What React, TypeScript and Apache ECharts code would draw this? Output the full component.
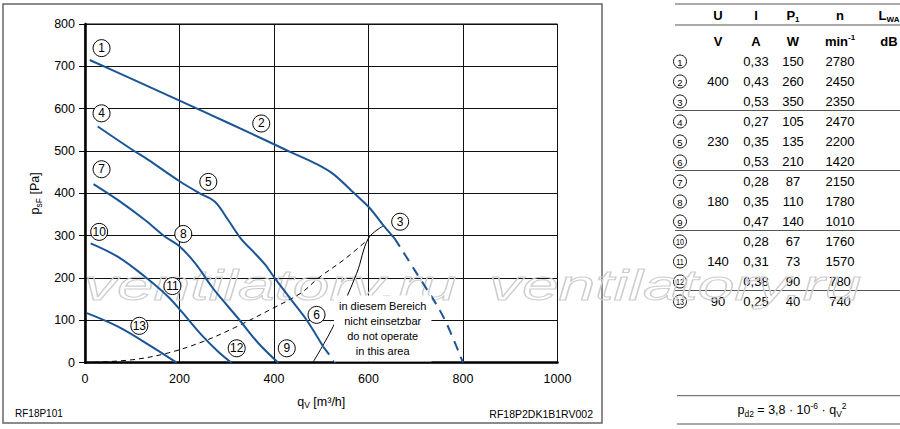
import React, { useEffect, useRef } from 'react';
import * as echarts from 'echarts';

// ---- Fan curves (q_V [m³/h], p_sF [Pa]) ----
const curve123Solid = [[10, 715], [100, 670], [200, 619], [300, 568], [400, 516], [434, 498], [487, 471], [525, 446], [568, 402], [602, 366], [631, 325], [655, 294]];
const curve123Dashed = [[655, 294], [702, 211], [758, 109], [800, 0]];
const curve456Solid = [[27, 558], [100, 503], [134, 479], [201, 428], [243, 400], [275, 380], [303, 337], [332, 290], [353, 266], [381, 232], [402, 199], [437, 148], [469, 101], [504, 38]];
const curve456Dashed = [[504, 38], [530, 0]];
const curve789 = [[18, 422], [70, 384], [127, 337], [169, 298], [201, 274], [233, 235], [268, 180], [282, 160], [324, 105], [367, 46], [409, 0]];
const curve101112 = [[12, 282], [70, 250], [127, 203], [176, 156], [205, 120], [247, 65], [282, 26], [310, 0]];
const curve13 = [[4, 117], [70, 85], [141, 38], [194, 0]];
const systemCurve = [[0, 0], [100, 7], [176, 23], [250, 50], [317, 83], [400, 130], [459, 166], [494, 200], [550, 245], [600, 292]];
const limitLine = [[482, 0], [525, 85], [575, 211], [600, 294], [631, 323]];

// circled curve labels: [q_V, p_sF, id]
const curveLabels = [
  [35, 743, '1'], [373, 565, '2'], [667, 333, '3'],
  [35, 589, '4'], [261, 427, '5'], [490, 113, '6'],
  [35, 457, '7'], [208, 304, '8'], [427, 34, '9'],
  [30, 309, '10'], [185, 181, '11'], [321, 34, '12'],
  [115, 87, '13'],
];

// ---- Axis ticks ----
const xTicks = { min: 0, max: 1000, interval: 200 };
const yTicks = { min: 0, max: 800, interval: 100 };

// ---- Table ----
const tableIds = ['1', '2', '3', '4', '5', '6', '7', '8', '9', '10', '11', '12', '13'];
const tableU = ['', '400', '', '', '230', '', '', '180', '', '', '140', '', '90'];
const tableI = ['0,33', '0,43', '0,53', '0,27', '0,35', '0,53', '0,28', '0,35', '0,47', '0,28', '0,31', '0,38', '0,25'];
const tableP1 = ['150', '260', '350', '105', '135', '210', '87', '110', '140', '67', '73', '90', '40'];
const tableN = ['2780', '2450', '2350', '2470', '2200', '1420', '2150', '1780', '1010', '1760', '1570', '780', '740'];
const tableLWA = ['', '', '', '', '', '', '', '', '', '', '', '', ''];
const groupEnds = [2, 5, 8, 11];

const BLUE = '#1b5595';
const FONT = '"Liberation Sans", Arial, Helvetica, sans-serif';

export default function App() {
  const ref = useRef<HTMLDivElement>(null);

  useEffect(() => {
    if (!ref.current) return;
    const chart = echarts.init(ref.current, undefined, { renderer: 'svg' });

    const lineSeries = (data: number[][], dashed: boolean, color = BLUE, width = 2, dash: number[] = [10, 7]) => ({
      type: 'line',
      data,
      symbol: 'none',
      showSymbol: false,
      smooth: 0.35,
      silent: true,
      z: 3,
      lineStyle: { color, width, type: dashed ? dash : 'solid' },
    });

    const colX = { id: 680, U: 718, I: 756, P: 793, n: 840, L: 889 };
    const rowY = (i: number) => 61.5 + i * 20;

    const graphics: any[] = [];
    // outer frame
    graphics.push({
      type: 'rect', z: 0, silent: true,
      shape: { x: 3, y: 4, width: 599, height: 419 },
      style: { fill: 'none', stroke: '#666', lineWidth: 1.5 },
    });
    // watermarks
    [[84, 286], [489, 286]].forEach(([x, y]) => {
      graphics.push({
        type: 'text', x, y, scaleX: 1.57, z: 1, silent: true,
        style: {
          text: 'ventilatory.ru', font: `italic 42px ${FONT}`,
          fill: 'rgba(255,255,255,0)', stroke: '#cdcdcd', lineWidth: 1,
          verticalAlign: 'middle', align: 'left',
        },
      });
    });
    // area note
    graphics.push({
      type: 'text', x: 382.7, y: 328.5, z: 5, silent: true,
      style: {
        text: 'in diesem Bereich\nnicht einsetzbar\ndo not operate\nin this area',
        font: `11px ${FONT}`, fill: '#000', align: 'center', verticalAlign: 'middle',
        lineHeight: 15, backgroundColor: '#fff', padding: [3, 5],
      },
    });
    // drawing codes
    graphics.push({
      type: 'text', x: 15, y: 413, silent: true,
      style: { text: 'RF18P101', font: `10px ${FONT}`, fill: '#000', align: 'left', verticalAlign: 'middle' },
    });
    graphics.push({
      type: 'text', x: 593, y: 414, silent: true,
      style: { text: 'RF18P2DK1B1RV002', font: `10.5px ${FONT}`, fill: '#000', align: 'right', verticalAlign: 'middle' },
    });

    // table lines
    const hline = (y: number, x1 = 675, x2 = 900) => graphics.push({
      type: 'line', silent: true,
      shape: { x1, y1: y, x2, y2: y },
      style: { stroke: '#555', lineWidth: 1 },
    });
    hline(4);
    hline(25);
    groupEnds.forEach((i) => hline(rowY(i) + 9));

    const boldRich = {
      m: { fontFamily: FONT, fontSize: 13, fontWeight: 'bold', fill: '#000', lineHeight: 16 },
      s: { fontFamily: FONT, fontSize: 8, fontWeight: 'bold', fill: '#000', verticalAlign: 'bottom', lineHeight: 9 },
      p: { fontFamily: FONT, fontSize: 8, fontWeight: 'bold', fill: '#000', verticalAlign: 'top', lineHeight: 9 },
    };
    const headText = (x: number, y: number, text: string) => graphics.push({
      type: 'text', x, y, silent: true,
      style: { text, rich: boldRich, align: 'center', verticalAlign: 'middle', font: `bold 13px ${FONT}`, fill: '#000' },
    });
    headText(colX.U, 15, '{m|U}');
    headText(colX.I, 15, '{m|I}');
    headText(colX.P, 15, '{m|P}{s|1}');
    headText(colX.n, 15, '{m|n}');
    headText(colX.L, 15, '{m|L}{s|WA}');
    headText(colX.U, 41.5, '{m|V}');
    headText(colX.I, 41.5, '{m|A}');
    headText(colX.P, 41.5, '{m|W}');
    headText(colX.n, 41.5, '{m|min}{p|-1}');
    headText(colX.L, 41.5, '{m|dB}');

    const cell = (x: number, y: number, text: string, font = `13px ${FONT}`) => {
      if (!text) return;
      graphics.push({
        type: 'text', x, y, silent: true,
        style: { text, font, fill: '#000', align: 'center', verticalAlign: 'middle' },
      });
    };
    tableIds.forEach((id, i) => {
      const y = rowY(i);
      graphics.push({
        type: 'circle', silent: true,
        shape: { cx: colX.id, cy: y, r: 6.5 },
        style: { fill: '#fff', stroke: '#000', lineWidth: 0.9 },
      });
      graphics.push({
        type: 'text', x: colX.id, y: y + 0.5, silent: true, scaleX: id.length > 1 ? 0.8 : 1,
        style: { text: id, font: `${id.length > 1 ? 9 : 9.5}px ${FONT}`, fill: '#000', align: 'center', verticalAlign: 'middle' },
      });
      cell(colX.U, y, tableU[i]);
      cell(colX.I, y, tableI[i]);
      cell(colX.P, y, tableP1[i]);
      cell(colX.n, y, tableN[i]);
      cell(colX.L, y, tableLWA[i]);
    });

    // formula
    hline(395.7, 677, 900);
    hline(424, 677, 900);
    graphics.push({
      type: 'text', x: 792, y: 410, silent: true,
      style: {
        text: '{m|p}{s|d2}{m| = 3,8 · 10}{p|-6}{m| · q}{s|V}{p|2}',
        align: 'center', verticalAlign: 'middle',
        rich: {
          m: { fontFamily: FONT, fontSize: 12.5, fill: '#000', lineHeight: 17 },
          s: { fontFamily: FONT, fontSize: 8.5, fill: '#000', verticalAlign: 'bottom', lineHeight: 9 },
          p: { fontFamily: FONT, fontSize: 8.5, fill: '#000', verticalAlign: 'top', lineHeight: 9 },
        },
      },
    });

    const option: any = {
      animation: false,
      backgroundColor: '#fff',
      textStyle: { fontFamily: FONT },
      grid: {
        left: 85, top: 24, right: 342.5, bottom: 66.3,
        show: true, borderColor: '#000', borderWidth: 1, backgroundColor: 'transparent',
      },
      xAxis: {
        type: 'value', ...xTicks,
        name: '{m|q}{s|V}{m| [m³/h]}',
        nameLocation: 'middle', nameGap: 31,
        nameTextStyle: {
          rich: {
            m: { fontFamily: FONT, fontSize: 12.5, color: '#000', lineHeight: 16 },
            s: { fontFamily: FONT, fontSize: 8.5, color: '#000', verticalAlign: 'bottom', lineHeight: 8 },
          },
        },
        axisLine: { show: true, onZero: false, lineStyle: { color: '#000', width: 2.5 } },
        axisTick: { show: false },
        axisLabel: { color: '#000', fontSize: 12.5, fontFamily: FONT, margin: 10, formatter: (v: number) => String(v) },
        splitLine: { show: true, lineStyle: { color: '#111', width: 1 } },
      },
      yAxis: {
        type: 'value', ...yTicks,
        name: '{m|p}{s|sF}{m| [Pa]}',
        nameLocation: 'middle', nameGap: 38, nameRotate: 90,
        nameTextStyle: {
          rich: {
            m: { fontFamily: FONT, fontSize: 12.5, color: '#000', lineHeight: 16 },
            s: { fontFamily: FONT, fontSize: 8.5, color: '#000', verticalAlign: 'bottom', lineHeight: 8 },
          },
        },
        axisLine: { show: true, onZero: false, lineStyle: { color: '#000', width: 2.5 } },
        axisTick: { show: true, inside: false, length: 6, lineStyle: { color: '#000', width: 1 } },
        axisLabel: { color: '#000', fontSize: 12.5, fontFamily: FONT, margin: 10, formatter: (v: number) => String(v) },
        splitLine: { show: true, lineStyle: { color: '#111', width: 1 } },
      },
      graphic: { elements: graphics },
      series: [
        lineSeries(systemCurve, true, '#000', 1, [5, 4]),
        lineSeries(limitLine, false, '#000', 1),
        lineSeries(curve123Solid, false),
        lineSeries(curve123Dashed, true),
        lineSeries(curve456Solid, false),
        lineSeries(curve456Dashed, true),
        lineSeries(curve789, false),
        lineSeries(curve101112, false),
        lineSeries(curve13, false),
        {
          type: 'scatter',
          data: curveLabels,
          symbol: 'circle',
          symbolSize: 17,
          silent: true,
          z: 6,
          itemStyle: { color: '#fff', borderColor: '#000', borderWidth: 1, opacity: 1 },
          label: {
            show: true, position: 'inside', color: '#000', fontSize: 12, fontFamily: FONT,
            formatter: (p: any) => p.value[2],
          },
        },
      ],
    };

    chart.setOption(option);
    return () => chart.dispose();
  }, []);

  return (
    <div
      ref={ref}
      style={{ position: 'absolute', left: 0, top: 0, width: 900, height: 429, background: '#fff' }}
    />
  );
}
